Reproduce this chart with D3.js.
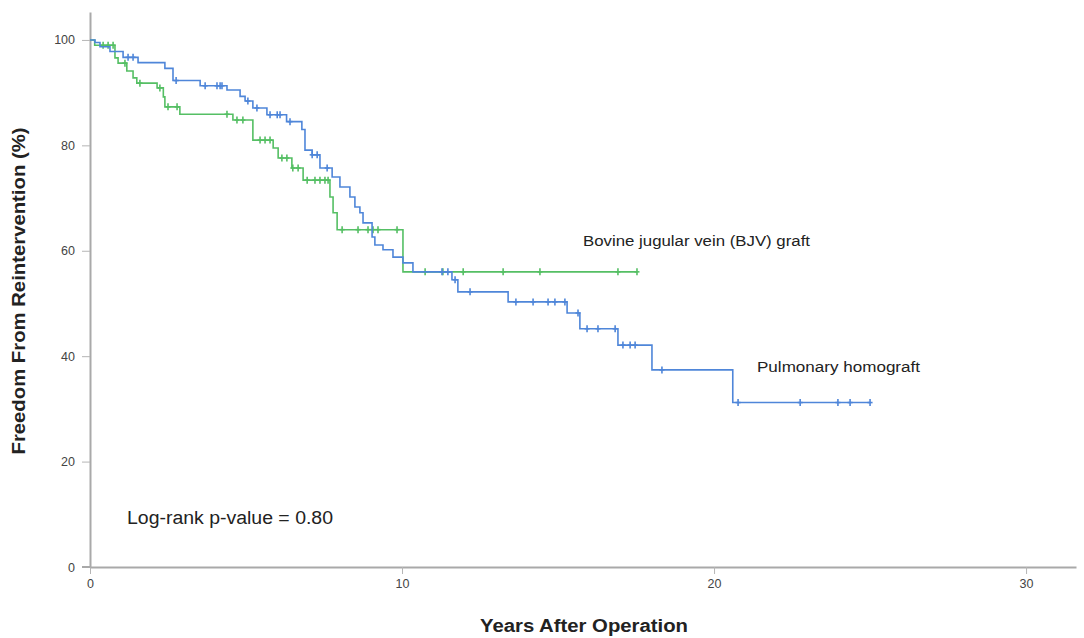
<!DOCTYPE html>
<html>
<head>
<meta charset="utf-8">
<script src="https://cdn.jsdelivr.net/npm/d3@7"></script>
<style>
  body { margin: 0; background: #fff; }
  svg { font-family: "Liberation Sans", Arial, sans-serif; }
</style>
</head>
<body>
<svg id="chart" width="1084" height="638"></svg>
<script>
// Kaplan-Meier steps: [years, freedom %]
const homograftSteps = [
  [0, 100], [0.16, 99.5], [0.32, 98.7], [0.64, 97.8], [1.06, 96.7], [1.54, 95.7],
  [2.4, 94.6], [2.66, 92.3], [3.53, 91.3], [4.39, 90.5], [4.81, 89.3], [4.97, 88.4],
  [5.22, 87.1], [5.67, 85.8], [6.3, 84.5], [6.79, 83], [6.89, 79.1], [7.12, 78.2],
  [7.37, 75.7], [7.76, 74], [8.01, 72.1], [8.33, 70.2], [8.49, 68.3], [8.65, 67.2],
  [8.75, 65.3], [9.04, 62.6], [9.13, 61.1], [9.39, 60.2], [9.71, 58.8], [10.03, 57.7],
  [10.35, 56], [11.6, 54.5], [11.79, 52.2], [13.4, 50.3], [15.29, 48.2], [15.7, 45.2],
  [16.92, 42.1], [18.01, 37.4], [20.6, 31.2]
];
const homograftEnd = 25.0;
const homograftCensored = [
  1.22, 1.38, 2.76, 3.69, 4.07, 4.17, 4.23, 5.06, 5.35, 5.77, 6.0, 6.09, 6.41,
  7.12, 7.28, 7.6, 11.28, 11.47, 11.7, 12.18, 13.65, 14.2, 14.68, 14.9, 15.22,
  15.64, 15.93, 16.28, 16.83, 17.08, 17.31, 17.47, 18.33, 20.77, 22.76, 23.97, 24.36, 25.0
];

const bjvSteps = [
  [0, 100], [0.15, 99], [0.8, 96.6], [0.9, 95.6], [1.18, 94.1], [1.38, 92.8], [1.5, 91.8],
  [2.15, 90.9], [2.35, 89.2], [2.4, 87.3], [2.88, 85.9], [4.58, 84.8], [5.22, 81],
  [5.87, 79.5], [6.03, 77.6], [6.47, 75.7], [6.83, 73.4], [7.69, 70.2], [7.79, 67.2],
  [7.92, 64], [10.03, 56]
];
const bjvEnd = 17.53;
const bjvCensored = [
  0.42, 0.58, 0.74, 1.12, 1.6, 2.24, 2.5, 2.79, 4.39, 4.71, 4.9, 5.45, 5.61, 5.77,
  6.15, 6.31, 6.5, 6.67, 6.96, 7.21, 7.37, 7.53, 7.63, 8.08, 8.59, 8.91, 9.07, 9.23,
  9.84, 10.74, 11.31, 11.96, 13.24, 14.42, 16.92, 17.53
];

const xTicks = [0, 10, 20, 30];
const yTicks = [0, 20, 40, 60, 80, 100];

const svg = d3.select("#chart");

const x = d3.scaleLinear().domain([0, 31.6]).range([90, 1076]);
const y = d3.scaleLinear().domain([0, 105.3]).range([567, 12]);

// axes
const xAxis = svg.append("g")
  .attr("transform", "translate(0," + y(0) + ")")
  .call(d3.axisBottom(x).tickValues(xTicks).tickSize(7).tickSizeOuter(0).tickPadding(5));
const yAxis = svg.append("g")
  .attr("transform", "translate(" + x(0) + ",0)")
  .call(d3.axisLeft(y).tickValues(yTicks).tickSize(8).tickSizeOuter(0).tickPadding(7));

[xAxis, yAxis].forEach(function(g) {
  g.select(".domain").attr("stroke", "#a9a9a9").attr("stroke-width", 2);
  g.selectAll(".tick line").attr("stroke", "#b5b5b5").attr("stroke-width", 1);
  g.selectAll(".tick text").attr("fill", "#444").style("font-size", "12.5px");
});

// small overhang where axes cross
svg.append("line").attr("x1", x(0) - 8).attr("x2", x(0)).attr("y1", y(0)).attr("y2", y(0))
  .attr("stroke", "#a9a9a9").attr("stroke-width", 2);

function survAt(steps, t) {
  let v = steps[0][1];
  steps.forEach(function(s) { if (s[0] <= t) v = s[1]; });
  return v;
}

const line = d3.line()
  .x(function(d) { return x(d[0]); })
  .y(function(d) { return y(d[1]); })
  .curve(d3.curveStepAfter);

function drawCurve(steps, end, censored, color) {
  const pts = steps.concat([[end, steps[steps.length - 1][1]]]);
  svg.append("path")
    .datum(pts)
    .attr("fill", "none")
    .attr("stroke", color)
    .attr("stroke-width", 1.6)
    .attr("d", line);

  const marks = svg.append("g").attr("stroke", color).attr("stroke-width", 1.6);
  censored.forEach(function(t) {
    const cx = x(t), cy = y(survAt(steps, t));
    marks.append("line").attr("x1", cx).attr("x2", cx).attr("y1", cy - 3.5).attr("y2", cy + 3.5);
    marks.append("line").attr("x1", cx - 2.5).attr("x2", cx + 2.5).attr("y1", cy).attr("y2", cy);
  });
}

drawCurve(bjvSteps, bjvEnd, bjvCensored, "#55bf64");
drawCurve(homograftSteps, homograftEnd, homograftCensored, "#4f86d9");

// annotations
svg.append("text").attr("x", 583).attr("y", 246)
  .attr("textLength", 227).attr("lengthAdjust", "spacingAndGlyphs")
  .style("font-size", "15.5px").attr("fill", "#222")
  .text("Bovine jugular vein (BJV) graft");
svg.append("text").attr("x", 757).attr("y", 372)
  .attr("textLength", 163).attr("lengthAdjust", "spacingAndGlyphs")
  .style("font-size", "15.5px").attr("fill", "#222")
  .text("Pulmonary homograft");
svg.append("text").attr("x", 127).attr("y", 524)
  .attr("textLength", 206).attr("lengthAdjust", "spacingAndGlyphs")
  .style("font-size", "18px").attr("fill", "#222")
  .text("Log-rank p-value = 0.80");

// axis titles
svg.append("text")
  .attr("transform", "translate(25,291) rotate(-90)")
  .attr("text-anchor", "middle")
  .attr("textLength", 327).attr("lengthAdjust", "spacingAndGlyphs")
  .style("font-size", "18px").style("font-weight", "bold").attr("fill", "#222")
  .text("Freedom From Reintervention (%)");
svg.append("text")
  .attr("x", 584).attr("y", 632)
  .attr("text-anchor", "middle")
  .attr("textLength", 208).attr("lengthAdjust", "spacingAndGlyphs")
  .style("font-size", "18px").style("font-weight", "bold").attr("fill", "#222")
  .text("Years After Operation");
</script>
</body>
</html>
